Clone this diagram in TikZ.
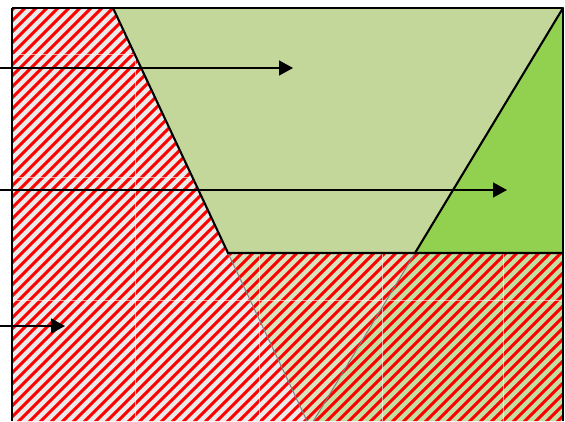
\documentclass[tikz,border=0pt]{standalone}
\usetikzlibrary{arrows.meta}
\definecolor{lgreen}{HTML}{C4D79B}
\definecolor{bgreen}{HTML}{92D050}
\definecolor{hgray}{HTML}{EAEAEA}
\definecolor{midgreen}{HTML}{D8E4BE}
\definecolor{rgtgreen}{HTML}{C3DFA2}
\tikzset{
  edge/.style={draw=black,line width=2.1pt,line cap=round},
  seam/.style={draw=black!50,line width=1pt},
  stripe/.style={draw=red,line width=3pt},
  tileseam/.style={draw=white,line width=0.8pt,opacity=0.6},
  pointer/.style={draw=black,line width=1.5pt,-{Triangle[length=14pt,width=15pt]}}
}
\begin{document}
\begin{tikzpicture}[x=1pt,y=-1pt]
\useasboundingbox (0,0) rectangle (565,421);
% key points
\coordinate (TL) at (12,8);
\coordinate (TA) at (113,8);
\coordinate (TR) at (563,8);
\coordinate (BA) at (228,253);
\coordinate (BB) at (415,253);
\coordinate (BR) at (563,253);
\coordinate (ZA) at (307,421);
\coordinate (ZB) at (313.5,421);
\coordinate (ZL) at (12,421);
\coordinate (ZR) at (563,421);
% fills
\fill[lgreen] (TA) -- (TR) -- (BB) -- (BA) -- cycle;
\fill[bgreen] (TR) -- (BR) -- (BB) -- cycle;
\fill[hgray] (TL) -- (TA) -- (BA) -- (ZA) -- (ZL) -- cycle;
\fill[midgreen] (BA) -- (BB) -- (ZB) -- (ZA) -- cycle;
\fill[rgtgreen] (BB) -- (BR) -- (ZR) -- (ZB) -- cycle;
% hatching
\begin{scope}
\clip (TL) -- (TA) -- (BA) -- (BR) -- (ZR) -- (ZL) -- cycle;
\foreach \c in {0,11,...,1100} {
  \draw[stripe] (\c,0) -- (\c-440,440);
}
\foreach \x in {135,259,382,503} {
  \draw[tileseam] (\x,0) -- (\x,421);
}
\foreach \y in {54,177,300} {
  \draw[tileseam] (0,\y) -- (565,\y);
}
\end{scope}
% continuation seams
\draw[seam] (BA) -- (ZA);
\draw[seam] (BB) -- (ZB);
% outlines
\draw[edge] (TA) -- (BA) -- (BR);
\draw[edge] (TR) -- (BB);
\draw[draw=black,line width=2.7pt] (TL) -- (TR);
\draw[draw=black,line width=2pt] (TL) -- (ZL);
\draw[draw=black,line width=1.6pt] (TR) -- (ZR);
% arrows
\coordinate (s1) at (0,68);
\coordinate (e1) at (293,68);
\coordinate (s2) at (0,190);
\coordinate (e2) at (507,190);
\coordinate (s3) at (0,326);
\coordinate (e3) at (65,326);
\draw[pointer] (s1) -- (e1);
\draw[pointer] (s2) -- (e2);
\draw[pointer] (s3) -- (e3);
\end{tikzpicture}
\end{document}
